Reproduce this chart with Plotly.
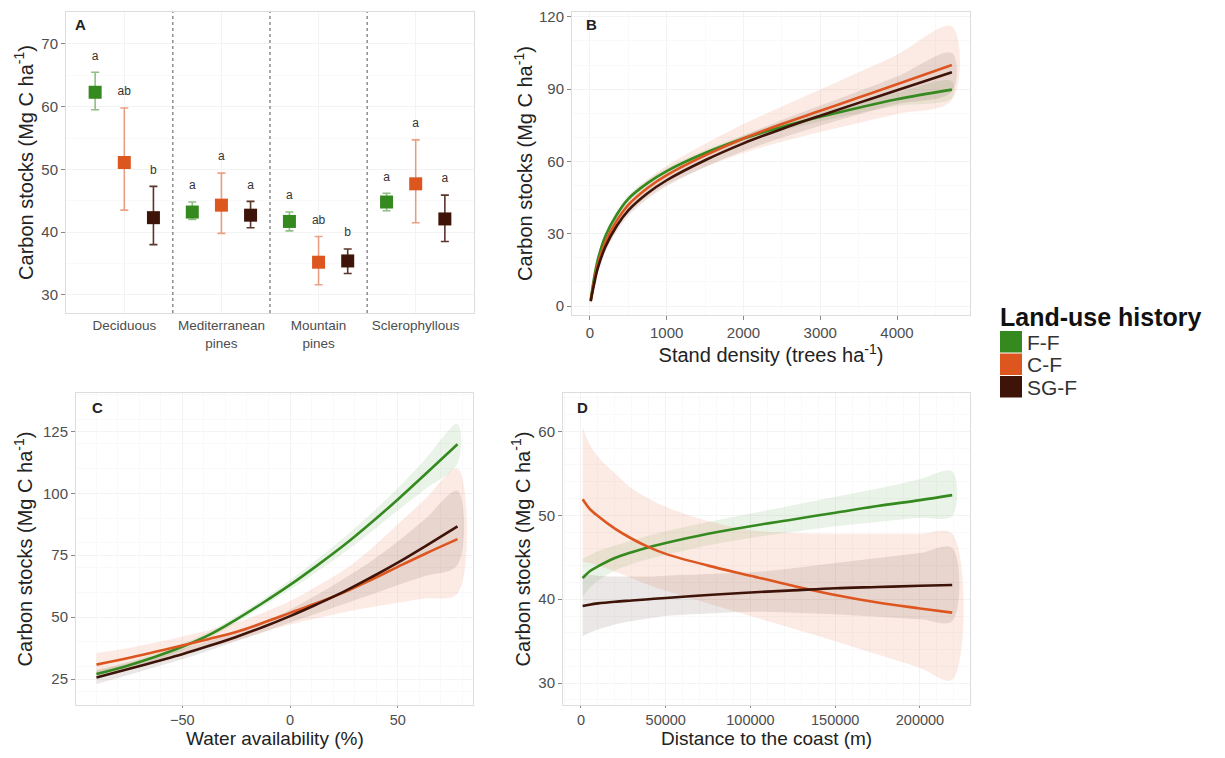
import plotly.graph_objects as go

# ---------------- DATA ----------------
groups = ["F-F", "C-F", "SG-F"]
colors = {"F-F": "#34891F", "C-F": "#DD5620", "SG-F": "#3E1308"}
ribbon_fill = {"F-F": "rgba(52,137,31,0.10)", "C-F": "rgba(233,90,40,0.12)", "SG-F": "rgba(62,19,8,0.10)"}
err_colors = {"F-F": "rgba(52,137,31,0.55)", "C-F": "rgba(221,86,32,0.55)", "SG-F": "rgba(62,19,8,0.85)"}

# Panel A
forest_types = ["Deciduous", "Mediterranean<br>pines", "Mountain<br>pines", "Sclerophyllous"]
a_mean = {"F-F": [62.3, 43.2, 41.7, 44.8], "C-F": [51.1, 44.3, 35.2, 47.7], "SG-F": [42.3, 42.7, 35.4, 42.1]}
a_low = {"F-F": [59.5, 42.0, 40.2, 43.4], "C-F": [43.5, 39.8, 31.6, 41.5], "SG-F": [38.0, 40.7, 33.4, 38.5]}
a_high = {"F-F": [65.5, 44.8, 43.2, 46.2], "C-F": [59.8, 49.4, 39.3, 54.7], "SG-F": [47.3, 44.9, 37.3, 45.9]}
a_letters = {"F-F": ["a", "a", "a", "a"], "C-F": ["ab", "a", "ab", "a"], "SG-F": ["b", "a", "b", "a"]}

# Panel B: stand density
b_x = [10, 50, 100, 200, 350, 500, 750, 1000, 1500, 2000, 2500, 3000, 3500, 4000, 4715]
b_fit = {"F-F": [2.5, 11.0, 19.0, 29.0, 38.0, 44.5, 51.0, 56.0, 63.5, 69.5, 74.3, 78.5, 82.3, 85.8, 89.8],
         "C-F": [2.2, 9.5, 17.0, 26.5, 35.5, 42.0, 49.0, 54.3, 62.5, 69.5, 75.5, 81.0, 86.5, 92.0, 100.0],
         "SG-F": [2.0, 8.5, 15.5, 24.5, 33.3, 39.7, 46.8, 52.2, 60.5, 67.5, 73.5, 79.0, 84.3, 89.5, 97.0]}
b_lo = {"F-F": [1.5, 9.7, 17.5, 27.5, 36.5, 43.0, 49.6, 54.7, 62.2, 68.1, 72.7, 76.6, 80.0, 83.0, 86.3],
        "C-F": [0.7, 7.0, 14.0, 23.3, 32.2, 38.6, 45.4, 50.4, 57.7, 63.5, 68.2, 72.2, 76.0, 79.7, 85.5],
        "SG-F": [1.0, 6.8, 13.5, 22.3, 31.0, 37.4, 44.4, 49.7, 57.7, 64.3, 69.8, 74.8, 79.5, 83.8, 89.0]}
b_hi = {"F-F": [3.5, 12.3, 20.5, 30.5, 39.5, 46.0, 52.4, 57.3, 64.8, 70.9, 75.9, 80.4, 84.6, 88.6, 93.3],
        "C-F": [3.7, 12.0, 20.0, 29.7, 38.8, 45.4, 52.6, 58.2, 67.3, 75.5, 82.8, 89.8, 97.0, 104.3, 116.0],
        "SG-F": [3.0, 10.2, 17.5, 26.7, 35.6, 42.0, 49.2, 54.7, 63.3, 70.7, 77.2, 83.2, 89.1, 95.2, 105.0]}

# Panel C: water availability
c_x = [-89.8, -75, -62.5, -50, -37.5, -25, -12.5, 0, 12.5, 25, 37.5, 50, 62.5, 77.7]
c_fit = {"F-F": [27.0, 30.5, 34.0, 38.0, 42.8, 49.0, 55.8, 63.0, 70.8, 79.0, 88.0, 97.5, 107.5, 119.8],
         "C-F": [30.8, 33.5, 36.0, 38.5, 41.2, 44.0, 47.7, 51.7, 55.7, 60.0, 65.0, 70.3, 75.5, 81.5],
         "SG-F": [25.6, 29.0, 32.0, 35.0, 38.4, 42.0, 46.0, 50.4, 55.2, 60.3, 66.0, 72.0, 78.5, 86.6]}
c_lo = {"F-F": [25.2, 29.0, 32.6, 36.6, 41.5, 47.6, 54.3, 61.0, 68.3, 76.0, 84.3, 93.0, 101.5, 112.0],
        "C-F": [26.5, 29.8, 32.5, 35.0, 37.8, 40.5, 43.8, 47.0, 49.5, 52.0, 54.0, 55.8, 57.5, 59.5],
        "SG-F": [23.0, 26.6, 29.8, 33.0, 36.5, 40.2, 44.0, 47.8, 51.5, 55.3, 59.0, 63.0, 66.5, 71.0]}
c_hi = {"F-F": [28.8, 32.0, 35.4, 39.4, 44.1, 50.4, 57.3, 65.0, 73.3, 82.0, 91.7, 102.0, 113.5, 128.0],
        "C-F": [35.5, 37.5, 39.7, 42.2, 44.8, 47.8, 51.8, 56.5, 62.5, 69.0, 77.5, 87.5, 97.5, 110.0],
        "SG-F": [28.3, 31.5, 34.3, 37.2, 40.4, 44.0, 48.2, 53.0, 59.0, 65.5, 72.5, 80.5, 89.5, 101.0]}

# Panel D: distance to the coast
d_x = [1000, 5000, 10000, 20000, 30000, 40000, 50000, 75000, 100000, 125000, 150000, 175000, 200000, 219000]
d_fit = {"F-F": [42.5, 43.3, 43.9, 44.9, 45.6, 46.2, 46.7, 47.8, 48.7, 49.5, 50.3, 51.1, 51.8, 52.4],
         "C-F": [51.9, 50.8, 49.9, 48.4, 47.2, 46.2, 45.4, 44.0, 42.8, 41.6, 40.5, 39.6, 38.9, 38.4],
         "SG-F": [39.2, 39.35, 39.5, 39.7, 39.85, 40.0, 40.15, 40.5, 40.8, 41.05, 41.3, 41.45, 41.6, 41.7]}
d_lo = {"F-F": [40.3, 41.3, 42.2, 43.4, 44.2, 44.8, 45.3, 46.4, 47.3, 48.0, 48.7, 49.2, 49.7, 49.9],
        "C-F": [44.5, 44.3, 44.0, 43.3, 42.5, 41.7, 41.0, 39.5, 38.0, 36.5, 35.0, 33.4, 31.8, 30.4],
        "SG-F": [35.6, 36.0, 36.4, 37.0, 37.4, 37.7, 38.0, 38.3, 38.5, 38.4, 38.2, 37.9, 37.6, 37.4]}
d_hi = {"F-F": [44.8, 45.2, 45.7, 46.4, 47.0, 47.6, 48.1, 49.2, 50.2, 51.2, 52.2, 53.2, 54.3, 55.2],
        "C-F": [60.5, 58.5, 57.0, 55.0, 53.2, 52.0, 51.0, 49.3, 48.2, 47.9, 47.8, 47.8, 47.8, 47.8],
        "SG-F": [43.0, 42.9, 42.8, 42.7, 42.7, 42.7, 42.8, 43.0, 43.2, 43.7, 44.3, 44.9, 45.5, 46.1]}

# ---------------- FIGURE ----------------
# The page body has an 8px margin, so the figure is drawn at (8, 8) in the window.
PAD = 8
W, H = 1225 - 2 * PAD, 758 - 2 * PAD
fig = go.Figure()

def px_x(p):
    return (p - PAD) / W

def px_y(p):
    return 1 - (p - PAD) / H

axes = {
    "A": dict(x=[66, 474], y=[12, 313], xr=[0.4, 4.6], yr=[27.1, 75.1]),
    "B": dict(x=[572, 970], y=[12, 315], xr=[-234, 4951], yr=[-3.7, 122]),
    "C": dict(x=[76, 473], y=[393, 705], xr=[-99.3, 84.9], yr=[14.5, 140.5]),
    "D": dict(x=[563, 970], y=[393, 705], xr=[-10600, 229500], yr=[27.4, 64.56]),
}
names = {"A": ("x", "y"), "B": ("x2", "y2"), "C": ("x3", "y3"), "D": ("x4", "y4")}

FONT = "Liberation Sans, Arial, sans-serif"
tickfont = dict(family=FONT, size=15, color="#4D4D4D")
titlefont = dict(family=FONT, size=20, color="#222222")
ylabel = "Carbon stocks (Mg C ha<sup>-1</sup>)"

base_axis = dict(showline=True, linecolor="#DDDDDD", linewidth=1, mirror=True,
                 gridcolor="#F3F3F3", gridwidth=1, zeroline=False, automargin=False,
                 ticks="outside", ticklen=4, tickcolor="#888888", tickwidth=1,
                 tickfont=tickfont, title_font=titlefont,
                 minor=dict(showgrid=True, gridcolor="#F9F9F9", gridwidth=1))

layout_axes = {}
for key, spec in axes.items():
    xn, yn = names[key]
    xa = dict(base_axis, domain=[px_x(spec["x"][0]), px_x(spec["x"][1])], range=spec["xr"],
              anchor=yn)
    ya = dict(base_axis, domain=[px_y(spec["y"][1]), px_y(spec["y"][0])], range=spec["yr"],
              anchor=xn, title=dict(text=ylabel, standoff=2))
    layout_axes["xaxis" + xn[1:]] = xa
    layout_axes["yaxis" + yn[1:]] = ya

small_tick = dict(family=FONT, size=14.5, color="#4D4D4D")

# Panel A specifics
layout_axes["xaxis"].update(tickvals=[1, 2, 3, 4], ticktext=forest_types, ticks="",
                            tickfont=dict(family=FONT, size=13.5, color="#4D4D4D"),
                            minor=dict(showgrid=False))
layout_axes["yaxis"].update(tickvals=[30, 40, 50, 60, 70],
                            minor=dict(showgrid=True, gridcolor="#F9F9F9", tickvals=[35, 45, 55, 65]))
layout_axes["xaxis2"].update(tickvals=[0, 1000, 2000, 3000, 4000],
                             title=dict(text="Stand density (trees ha<sup>-1</sup>)", standoff=3))
layout_axes["yaxis2"].update(tickvals=[0, 30, 60, 90, 120], title=dict(text=ylabel, standoff=0))
layout_axes["xaxis3"].update(tickvals=[-50, 0, 50], ticklen=2, tickfont=small_tick)
layout_axes["yaxis3"].update(tickvals=[25, 50, 75, 100, 125], title=dict(text=ylabel, standoff=4))
layout_axes["xaxis4"].update(tickvals=[0, 50000, 100000, 150000, 200000], tickformat="d", ticklen=2,
                             tickfont=small_tick)
layout_axes["yaxis4"].update(tickvals=[30, 40, 50, 60])

# Panel A traces
offsets = {"F-F": -0.3, "C-F": 0.0, "SG-F": 0.3}
for g in groups:
    xs = [i + 1 + offsets[g] for i in range(len(forest_types))]
    fig.add_trace(go.Scatter(
        x=xs, y=a_mean[g], mode="markers", xaxis="x", yaxis="y", showlegend=False,
        marker=dict(symbol="square", size=13, color=colors[g]),
        error_y=dict(type="data", symmetric=False,
                     array=[h - m for h, m in zip(a_high[g], a_mean[g])],
                     arrayminus=[m - l for m, l in zip(a_mean[g], a_low[g])],
                     color=err_colors[g], thickness=1.6, width=4)))
    fig.add_trace(go.Scatter(
        x=xs, y=[h + 2.5 for h in a_high[g]], mode="text", text=a_letters[g],
        textfont=dict(family=FONT, size=12, color="#333333"),
        xaxis="x", yaxis="y", showlegend=False))

# Ribbon + line panels
def add_panel(xn, yn, xs, fit, lo, hi):
    for g in groups:
        fig.add_trace(go.Scatter(
            x=list(xs) + list(xs)[::-1], y=list(hi[g]) + list(lo[g])[::-1],
            fill="toself", fillcolor=ribbon_fill[g], line=dict(width=0, shape="spline", smoothing=1.0),
            mode="lines", xaxis=xn, yaxis=yn, showlegend=False, hoverinfo="skip"))
    for g in groups:
        fig.add_trace(go.Scatter(
            x=xs, y=fit[g], mode="lines", line=dict(color=colors[g], width=2.6, shape="spline", smoothing=1.0),
            xaxis=xn, yaxis=yn, showlegend=False, name=g))

add_panel("x2", "y2", b_x, b_fit, b_lo, b_hi)
add_panel("x3", "y3", c_x, c_fit, c_lo, c_hi)
add_panel("x4", "y4", d_x, d_fit, d_lo, d_hi)

shapes = []
# dashed separators in panel A
for xv in [1.5, 2.5, 3.5]:
    shapes.append(dict(type="line", xref="x", yref="paper", x0=xv, x1=xv,
                       y0=px_y(313), y1=px_y(12), line=dict(color="#555555", width=1, dash="dot")))

annotations = []
for lab, (xp, yp) in {"A": (80, 24), "B": (591, 24), "C": (97, 408), "D": (582, 408)}.items():
    annotations.append(dict(text="<b>%s</b>" % lab, x=px_x(xp), y=px_y(yp), xref="paper", yref="paper",
                            xanchor="center", yanchor="middle", showarrow=False,
                            font=dict(family=FONT, size=15, color="#222222")))

# bottom-row x-axis titles
for txt, (x0, x1) in [("Water availability (%)", axes["C"]["x"]), ("Distance to the coast (m)", axes["D"]["x"])]:
    annotations.append(dict(text=txt, x=px_x((x0 + x1) / 2), y=px_y(738.5), xref="paper", yref="paper",
                            xanchor="center", yanchor="middle", showarrow=False,
                            font=dict(family=FONT, size=19, color="#222222")))

# Legend (drawn manually)
annotations.append(dict(text="<b>Land-use history</b>", x=px_x(998), y=px_y(317), xref="paper", yref="paper",
                        xanchor="left", yanchor="middle", showarrow=False,
                        font=dict(family=FONT, size=25, color="#111111")))
key_tops = [331, 353.5, 376]
for g, top in zip(groups, key_tops):
    shapes.append(dict(type="rect", xref="paper", yref="paper", x0=px_x(1000), x1=px_x(1022),
                       y0=px_y(top + 21.5), y1=px_y(top), line=dict(width=0), fillcolor=colors[g]))
    annotations.append(dict(text=g, x=px_x(1025), y=px_y(top + 11), xref="paper", yref="paper",
                            xanchor="left", yanchor="middle", showarrow=False,
                            font=dict(family=FONT, size=21, color="#333333")))

fig.update_layout(width=W, height=H, margin=dict(l=0, r=0, t=0, b=0),
                  paper_bgcolor="white", plot_bgcolor="white", showlegend=False,
                  shapes=shapes, annotations=annotations, **layout_axes)

fig.write_html("out.html")
